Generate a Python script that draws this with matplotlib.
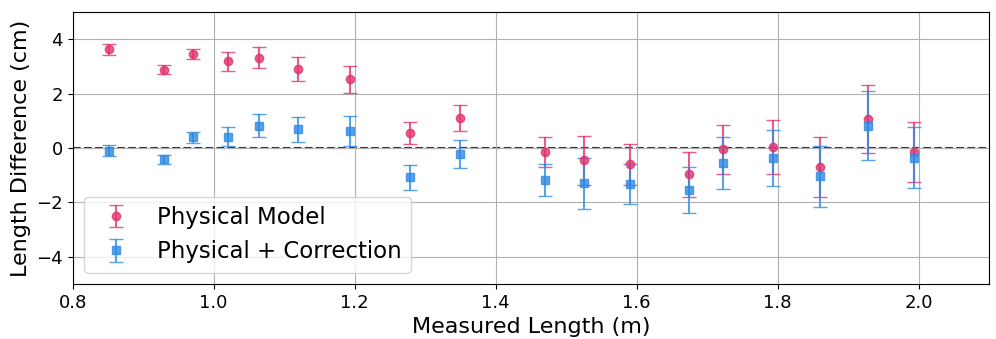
import numpy as np
import matplotlib.pyplot as plt

length = [0.851, 0.930, 0.970, 1.021, 1.065, 1.119, 1.194, 1.279, 1.350,
          1.470, 1.525, 1.590, 1.675, 1.723, 1.794, 1.860, 1.929, 1.994]

phys = [3.62, 2.88, 3.45, 3.18, 3.32, 2.90, 2.52, 0.55, 1.10,
        -0.15, -0.45, -0.60, -0.96, -0.04, 0.03, -0.69, 1.07, -0.15]
phys_err = [0.20, 0.15, 0.18, 0.35, 0.40, 0.45, 0.50, 0.42, 0.48,
            0.55, 0.90, 0.75, 0.83, 0.90, 1.00, 1.10, 1.25, 1.10]

corr = [-0.10, -0.42, 0.40, 0.42, 0.82, 0.68, 0.62, -1.08, -0.22,
        -1.18, -1.30, -1.32, -1.55, -0.55, -0.37, -1.03, 0.82, -0.36]
corr_err = [0.20, 0.18, 0.20, 0.35, 0.42, 0.45, 0.55, 0.45, 0.50,
            0.60, 0.95, 0.72, 0.85, 0.95, 1.03, 1.12, 1.28, 1.12]

red = '#e2336f'
blue = '#2f8ae3'

fig = plt.figure(figsize=(9.96, 3.39), dpi=100)
ax = fig.add_axes([0.073, 0.162, 0.92, 0.803])

ax.errorbar(length, phys, yerr=phys_err, fmt='o', color=red, ms=6,
            capsize=5, elinewidth=1.5, alpha=0.8, label='Physical Model')
ax.errorbar(length, corr, yerr=corr_err, fmt='s', color=blue, ms=6,
            capsize=5, elinewidth=1.5, alpha=0.8, label='Physical + Correction')
ax.axhline(0, color='#333333', ls='--', lw=1.5, zorder=0)

ax.set_xlim(0.8, 2.1)
ax.set_ylim(-5, 5)
ax.set_yticks([-4, -2, 0, 2, 4])
ax.grid(True, color='#b0b0b0', lw=0.8)
ax.set_axisbelow(True)
ax.tick_params(labelsize=13)
ax.set_xlabel('Measured Length (m)', fontsize=16)
ax.set_ylabel('Length Difference (cm)', fontsize=16)
ax.legend(loc='lower left', fontsize=16.5)

fig.savefig('out.png', dpi=100)
